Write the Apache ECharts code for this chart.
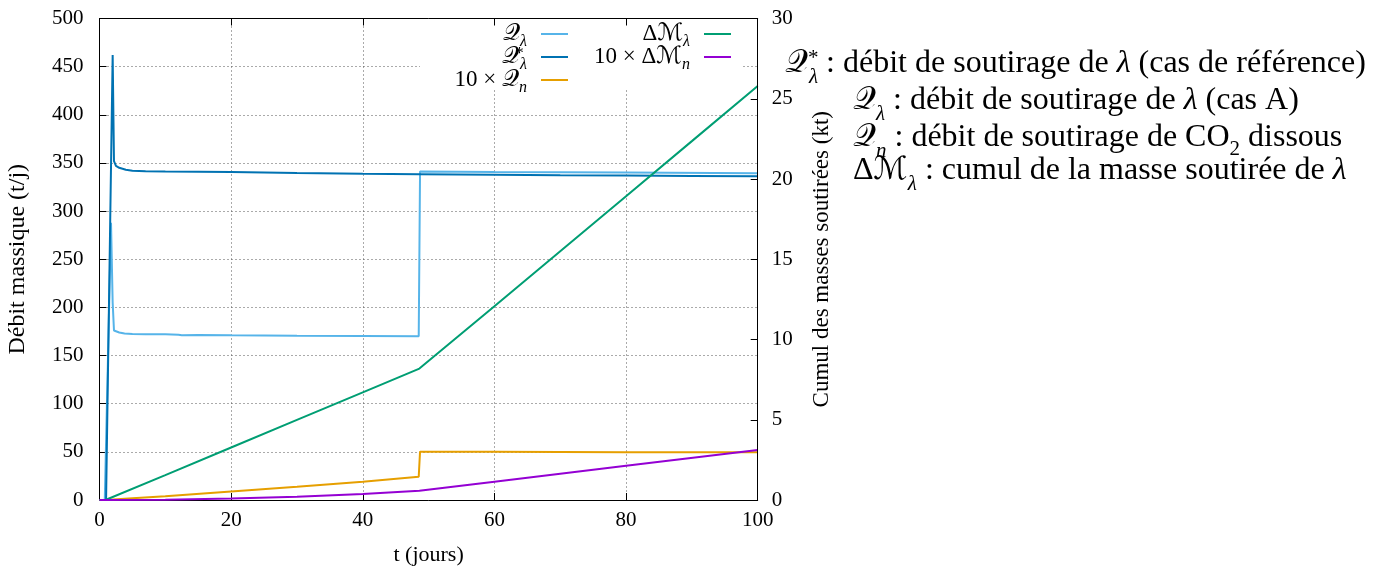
<!DOCTYPE html>
<html><head><meta charset="utf-8">
<script src="https://cdn.jsdelivr.net/npm/echarts@6/dist/echarts.min.js"></script>
<style>html,body{margin:0;padding:0;background:#fff}#c{width:1379px;height:571px}</style>
</head><body><div id="c"></div>
<script>
// ---- data ----
const tRef = [0, 1.0, 2.0, 2.2, 2.5, 3, 4, 5, 7, 10, 15, 20, 30, 40, 48.6, 60, 70, 80, 90, 100];
const qRef = [0, 0, 462, 352, 347, 345, 343, 342, 341.5, 341, 340.8, 340.5, 339.6, 338.8, 338.3, 337.8, 337.3, 336.9, 336.5, 336.2];

const tA = [0, 0.8, 1.75, 2.0, 2.2, 3, 3.8, 5, 7, 10, 12, 12.5, 15, 20, 30, 40, 48.5, 48.7, 60, 80, 100];
const qA = [0, 0, 288, 205, 176, 174, 173, 172.5, 172.2, 172, 171.5, 171, 171.3, 171, 170.6, 170.3, 170, 341, 340.5, 340, 339.3];

const tN = [0, 0.9, 5, 10, 20, 30, 40, 48.5, 48.7, 60, 80, 100];
const qN10 = [0, 0, 1.8, 4, 8.8, 13.8, 19, 24.2, 50.2, 50, 49.7, 49.5];

const tM = [0, 0.9, 10, 20, 30, 40, 48.6, 60, 70, 80, 90, 100];
const mL = [0, 0, 1.55, 3.27, 4.99, 6.71, 8.19, 12.07, 15.5, 18.93, 22.36, 25.8];

const tMn = [0, 0.9, 10, 20, 30, 40, 48.6, 60, 80, 100];
const mN10 = [0, 0, 0.02, 0.09, 0.21, 0.38, 0.57, 1.14, 2.13, 3.12];

const xRange = [0, 100, 20];
const yLeftRange = [0, 500, 50];
const yRightRange = [0, 30, 5];

const colors = {Ql: '#56b4e9', Qs: '#0072b2', Qn: '#e69f00', Ml: '#009e73', Mn: '#9400d3'};
const labels = {
  Ql: '{q|𝒬}{sub|λ}',
  Qs: '{q|𝒬}{sup|*}{sub|λ}',
  Qn: '{n|10 × }{q|𝒬}{sub|n}',
  Ml: '{n|Δ}{q|ℳ}{sub|λ}',
  Mn: '{n|10 × Δ}{q|ℳ}{sub|n}'
};

const zip = (a, b) => a.map((v, i) => [v, b[i]]);
const FF = 'Liberation Serif, DejaVu Serif, DejaVu Sans, serif';

function mkSeries(name, t, v, yIdx) {
  return {
    type: 'line', name: name, data: zip(t, v), yAxisIndex: yIdx, xAxisIndex: 0,
    symbol: 'none', showSymbol: false, animation: false,
    lineStyle: {color: colors[name], width: 2}, itemStyle: {color: colors[name]}
  };
}

const legRich = {
  q: {fontFamily: FF, fontSize: 24, lineHeight: 24, verticalAlign: 'top', color: '#000'},
  n: {fontFamily: FF, fontSize: 23, lineHeight: 24, verticalAlign: 'top', color: '#000'},
  sub: {fontFamily: FF, fontSize: 16, lineHeight: 16, padding: [12, 9, 0, 0], verticalAlign: 'top', color: '#000', fontStyle: 'italic'},
  sup: {fontFamily: FF, fontSize: 17, lineHeight: 17, padding: [0, 0, 0, 0], verticalAlign: 'top', color: '#000', width: 1, align: 'left'}
};

function mkLegend(name, right, top) {
  return {
    data: [name], right: right, top: top, orient: 'horizontal', align: 'right',
    itemWidth: 27, itemHeight: 2, icon: 'rect', padding: 0, itemGap: 0,
    selectedMode: false, z: 4,
    formatter: n => labels[n],
    textStyle: {rich: legRich}
  };
}

const axisBase = {
  axisLine: {show: true, onZero: false, lineStyle: {color: '#000', width: 1}},
  axisTick: {show: true, inside: true, length: 7, lineStyle: {color: '#000', width: 1}},
  axisLabel: {color: '#000', fontFamily: FF, fontSize: 21},
  nameTextStyle: {color: '#000', fontFamily: FF, fontSize: 23}
};
const grid = {type: [1, 3], color: '#555', width: 1};

const annRich = {
  q: {fontFamily: FF, fontSize: 32, lineHeight: 36, verticalAlign: 'top', fill: '#000'},
  n: {fontFamily: FF, fontSize: 32, lineHeight: 36, verticalAlign: 'top', fill: '#000'},
  it: {fontFamily: FF, fontSize: 32, lineHeight: 36, verticalAlign: 'top', fill: '#000', fontStyle: 'italic'},
  sub: {fontFamily: FF, fontSize: 21, lineHeight: 21, padding: [19, 0, 0, 0], verticalAlign: 'top', fill: '#000', fontStyle: 'italic'},
  sub2: {fontFamily: FF, fontSize: 21, lineHeight: 21, padding: [17, 0, 0, 0], verticalAlign: 'top', fill: '#000'},
  sup: {fontFamily: FF, fontSize: 21, lineHeight: 21, padding: [0, 0, 0, 0], verticalAlign: 'top', fill: '#000', width: 1, align: 'left'}
};
function ann(x, y, txt) {
  return {type: 'text', left: x, top: y, z: 10, style: {text: txt, rich: annRich, fill: '#000', font: '32px ' + FF}};
}

const chart = echarts.init(document.getElementById('c'), null, {renderer: 'canvas'});
chart.setOption({
  backgroundColor: '#fff',
  animation: false,
  grid: {left: 99.5, right: 1379 - 757.7, top: 18.5, bottom: 571 - 500, containLabel: false},
  xAxis: [
    Object.assign({}, axisBase, {
      type: 'value', position: 'bottom', min: xRange[0], max: xRange[1], interval: xRange[2],
      axisLabel: Object.assign({}, axisBase.axisLabel, {margin: 10}),
      splitLine: {show: true, lineStyle: grid},
      name: 't (jours)', nameLocation: 'middle', nameGap: 44,
      nameTextStyle: Object.assign({}, axisBase.nameTextStyle, {fontSize: 22})
    }),
    Object.assign({}, axisBase, {
      type: 'value', position: 'top', min: xRange[0], max: xRange[1], interval: xRange[2],
      axisLabel: {show: false}, splitLine: {show: false}, z: 5
    })
  ],
  yAxis: [
    Object.assign({}, axisBase, {
      type: 'value', position: 'left', min: yLeftRange[0], max: yLeftRange[1], interval: yLeftRange[2],
      axisLabel: Object.assign({}, axisBase.axisLabel, {margin: 16}),
      splitLine: {show: true, lineStyle: grid},
      name: 'Débit massique (t/j)', nameLocation: 'middle', nameGap: 70,
      nameTextStyle: Object.assign({}, axisBase.nameTextStyle, {fontSize: 24})
    }),
    Object.assign({}, axisBase, {
      type: 'value', position: 'right', min: yRightRange[0], max: yRightRange[1], interval: yRightRange[2],
      axisLabel: Object.assign({}, axisBase.axisLabel, {margin: 14}),
      splitLine: {show: false}, z: 5,
      name: 'Cumul des masses soutirées (kt)', nameLocation: 'middle', nameGap: 53
    })
  ],
  legend: [
    mkLegend('Ql', 1379 - 568, 22),
    mkLegend('Qs', 1379 - 568, 45),
    mkLegend('Qn', 1379 - 568, 68),
    mkLegend('Ml', 1379 - 731, 22),
    mkLegend('Mn', 1379 - 731, 45)
  ],
  graphic: {elements: [
    {type: 'rect', shape: {x: 420, y: 20, width: 322, height: 70}, style: {fill: '#fff'}, z: 1, silent: true},
    ann(785, 48, '{q|𝒬}{sup|*}{sub|λ}{n| : débit de soutirage de }{it|λ}{n| (cas de référence)}'),
    ann(853, 85, '{q|𝒬}{sub|λ}{n| : débit de soutirage de }{it|λ}{n| (cas A)}'),
    ann(853, 122, '{q|𝒬}{sub|n}{n| : débit de soutirage de CO}{sub2|2}{n| dissous}'),
    ann(853, 155, '{n|Δ}{q|ℳ}{sub|λ}{n| : cumul de la masse soutirée de }{it|λ}')
  ]},
  series: [
    mkSeries('Ql', tA, qA, 0),
    mkSeries('Qs', tRef, qRef, 0),
    mkSeries('Qn', tN, qN10, 0),
    mkSeries('Ml', tM, mL, 1),
    mkSeries('Mn', tMn, mN10, 1)
  ]
});
</script></body></html>
